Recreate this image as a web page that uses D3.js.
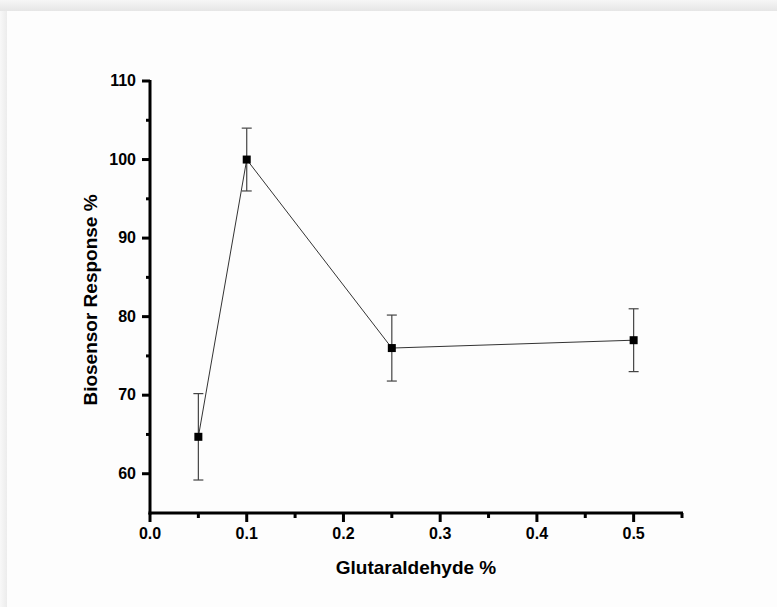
<!DOCTYPE html>
<html>
<head>
<meta charset="utf-8">
<script src="https://cdn.jsdelivr.net/npm/d3@7"></script>
<style>
body { margin: 0; background: #fdfdfd; }
svg { display: block; }
</style>
</head>
<body>
<div id="chart"></div>
<script>
// data
var conc = [0.05, 0.1, 0.25, 0.5];
var response = [64.7, 100, 76, 77];
var errLow = [59.2, 96, 71.8, 73];
var errHigh = [70.2, 104, 80.2, 81];
var xTicks = [0.0, 0.1, 0.2, 0.3, 0.4, 0.5];
var yTicks = [60, 70, 80, 90, 100, 110];

var width = 777,
	height = 607;

var svg = d3.select("#chart").append("svg")
	.attr("width", width)
	.attr("height", height);

// page frame: light grey band at top and left
var defs = svg.append("defs");
var gTop = defs.append("linearGradient").attr("id", "gtop")
	.attr("x1", 0).attr("y1", 0).attr("x2", 0).attr("y2", 1);
gTop.append("stop").attr("offset", "0%").attr("stop-color", "#f6f6f6");
gTop.append("stop").attr("offset", "100%").attr("stop-color", "#e6e6e6");
var gLeft = defs.append("linearGradient").attr("id", "gleft")
	.attr("x1", 0).attr("y1", 0).attr("x2", 1).attr("y2", 0);
gLeft.append("stop").attr("offset", "0%").attr("stop-color", "#f8f8f8");
gLeft.append("stop").attr("offset", "100%").attr("stop-color", "#ececec");

svg.append("rect").attr("x", 0).attr("y", 0).attr("width", width).attr("height", height).style("fill", "#fdfdfd");
svg.append("rect").attr("x", 0).attr("y", 0).attr("width", 7).attr("height", height).style("fill", "url(#gleft)");
svg.append("rect").attr("x", 0).attr("y", 0).attr("width", width).attr("height", 11).style("fill", "url(#gtop)");

var x = d3.scaleLinear().domain([0, 0.55]).range([150, 682]);
var y = d3.scaleLinear().domain([55, 110]).range([513, 81]);

var FONT = "'Liberation Sans', Arial, sans-serif";

// x axis
var xAxis = svg.append("g").attr("transform", "translate(0," + y(55) + ")");
xAxis.append("line")
	.attr("x1", x(0) - 1.5).attr("x2", x(0.55) + 1)
	.style("stroke", "#000").style("stroke-width", 3);
xAxis.selectAll(".minor")
	.data(d3.range(0, 12).map(function(i) { return i * 0.05; }))
	.enter().append("line")
	.attr("x1", function(d) { return x(d); })
	.attr("x2", function(d) { return x(d); })
	.attr("y1", 0)
	.attr("y2", function(d, i) { return i % 2 == 0 ? 9 : 5; })
	.style("stroke", "#000").style("stroke-width", 3);
xAxis.selectAll(".lbl")
	.data(xTicks)
	.enter().append("text")
	.attr("x", function(d) { return x(d); })
	.attr("y", 26)
	.attr("text-anchor", "middle")
	.style("font-family", FONT)
	.style("font-weight", "bold")
	.style("font-size", "16px")
	.text(function(d) { return d3.format(".1f")(d); });

// y axis
var yAxis = svg.append("g").attr("transform", "translate(" + x(0) + ",0)");
yAxis.append("line")
	.attr("y1", y(55) + 1.5).attr("y2", y(110) - 1)
	.style("stroke", "#000").style("stroke-width", 3);
yAxis.selectAll(".minor")
	.data(d3.range(0, 11).map(function(i) { return 60 + i * 5; }))
	.enter().append("line")
	.attr("y1", function(d) { return y(d); })
	.attr("y2", function(d) { return y(d); })
	.attr("x1", 0)
	.attr("x2", function(d, i) { return i % 2 == 0 ? -8 : -4; })
	.style("stroke", "#000").style("stroke-width", 3);
yAxis.selectAll(".lbl")
	.data(yTicks)
	.enter().append("text")
	.attr("x", -14)
	.attr("y", function(d) { return y(d) + 5; })
	.attr("text-anchor", "end")
	.style("font-family", FONT)
	.style("font-weight", "bold")
	.style("font-size", "16px")
	.text(function(d) { return d; });

// axis titles
svg.append("text")
	.attr("x", 416).attr("y", 574)
	.attr("text-anchor", "middle")
	.style("font-family", FONT)
	.style("font-weight", "bold")
	.style("font-size", "19px")
	.text("Glutaraldehyde %");

svg.append("text")
	.attr("transform", "translate(97,300) rotate(-90)")
	.attr("text-anchor", "middle")
	.style("font-family", FONT)
	.style("font-weight", "bold")
	.style("font-size", "19px")
	.text("Biosensor Response %");

// error bars
var pts = conc.map(function(c, i) {
	return { x: c, y: response[i], lo: errLow[i], hi: errHigh[i] };
});

var err = svg.append("g").selectAll("g")
	.data(pts).enter().append("g")
	.style("stroke", "#444").style("stroke-width", 1.2);
err.append("line")
	.attr("x1", function(d) { return x(d.x); })
	.attr("x2", function(d) { return x(d.x); })
	.attr("y1", function(d) { return y(d.lo); })
	.attr("y2", function(d) { return y(d.hi); });
err.append("line")
	.attr("x1", function(d) { return x(d.x) - 5; })
	.attr("x2", function(d) { return x(d.x) + 5; })
	.attr("y1", function(d) { return y(d.lo); })
	.attr("y2", function(d) { return y(d.lo); });
err.append("line")
	.attr("x1", function(d) { return x(d.x) - 5; })
	.attr("x2", function(d) { return x(d.x) + 5; })
	.attr("y1", function(d) { return y(d.hi); })
	.attr("y2", function(d) { return y(d.hi); });

// connecting line
var line = d3.line()
	.x(function(d) { return x(d.x); })
	.y(function(d) { return y(d.y); });

svg.append("path")
	.attr("d", line(pts))
	.style("fill", "none")
	.style("stroke", "#333")
	.style("stroke-width", 1);

// square markers
svg.append("g").selectAll("rect")
	.data(pts).enter().append("rect")
	.attr("x", function(d) { return x(d.x) - 4; })
	.attr("y", function(d) { return y(d.y) - 4; })
	.attr("width", 8)
	.attr("height", 8)
	.style("fill", "#000");
</script>
</body>
</html>
